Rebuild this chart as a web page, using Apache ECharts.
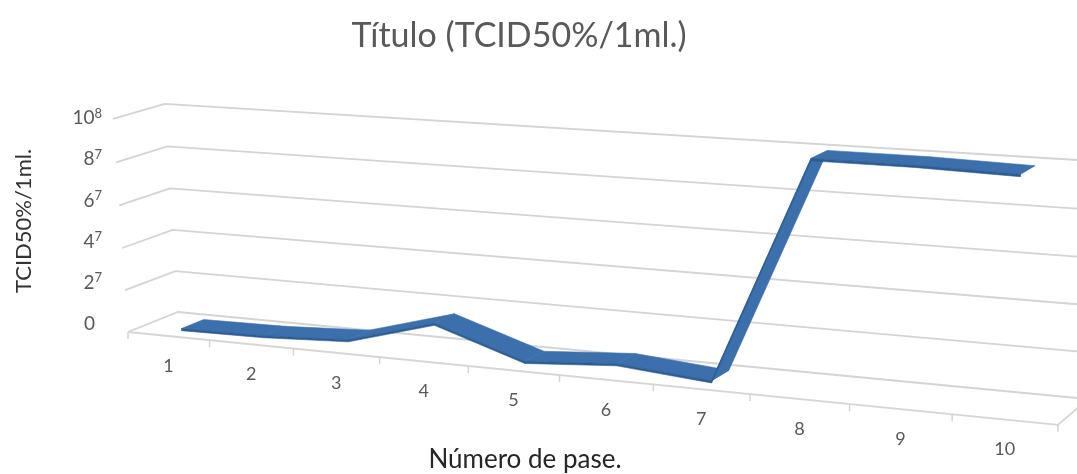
<!DOCTYPE html>
<html>
<head>
<meta charset="utf-8">
<script src="https://cdn.jsdelivr.net/npm/echarts@6/dist/echarts.min.js"></script>
<style>
  html, body { margin: 0; padding: 0; background: #ffffff; }
  #chart { width: 1077px; height: 474px; }
</style>
</head>
<body>
<div id="chart"></div>
<script>
// Passage numbers along the floor
const categories = ['1', '2', '3', '4', '5', '6', '7', '8', '9', '10'];
// Titre per passage (TCID50%/1ml.)
const titerValues = [1e6, 1.5e6, 3.5e6, 1.5e7, 1.5e6, 4.5e6, 1e6, 1e8, 1e8, 9.9e7];
// Value-axis ticks and their labels (base + exponent)
const yTickValues = [0, 2e7, 4e7, 6e7, 8e7, 1e8];
const yTickBase = ['0', '2', '4', '6', '8', '10'];
const yTickExp = ['', '7', '7', '7', '7', '8'];

const FONT = 'Lato, "Open Sans", sans-serif';

// Perspective camera for the 3-D box: image of the front-left-floor corner,
// vanishing points of the three box directions and their weights.
const camera = {
  origin: [128, 332],
  vx: [-5863, -266], kx: -0.013437,
  vy: [738, 9000], ky: -0.0024,
  vz: [2075, -447], kz: 0.02636
};
// x: 0..N along the passages, v: 0..10 up the value axis, z: 0 (front) .. 1 (back wall)
function project(x, v, z) {
  const c = camera;
  const X = c.origin[0] + c.kx * x * c.vx[0] + c.ky * v * c.vy[0] + c.kz * z * c.vz[0];
  const Y = c.origin[1] + c.kx * x * c.vx[1] + c.ky * v * c.vy[1] + c.kz * z * c.vz[1];
  const W = 1 + c.kx * x + c.ky * v + c.kz * z;
  return [X / W, Y / W];
}
const N = categories.length;
// Convert a pixel from the flat cartesian grid into box coordinates
function toBox(cs, px) {
  return {
    x: (px[0] - cs.x) / cs.width * N,
    v: (cs.y + cs.height - px[1]) / cs.height * 10
  };
}

const RIB_Z1 = 0.26, RIB_Z2 = 0.71, RIB_T = 0.1;

const chart = echarts.init(document.getElementById('chart'), null, { renderer: 'canvas' });

const option = {
  backgroundColor: '#ffffff',
  animation: false,
  title: {
    text: 'Título (TCID50%/1ml.)',
    left: 514,
    top: 14,
    textAlign: 'center',
    textStyle: { fontFamily: FONT, fontSize: 34, fontWeight: 'normal', color: '#595959' }
  },
  grid: { left: 105, right: 132, top: 118, bottom: 148, containLabel: false },
  xAxis: {
    type: 'category',
    data: categories,
    boundaryGap: true,
    axisLine: { show: false },
    axisTick: { show: false },
    axisLabel: { show: false },
    splitLine: { show: false },
    name: 'Número de pase.',
    nameLocation: 'middle',
    nameGap: 123,
    nameTextStyle: { fontFamily: FONT, fontSize: 26, color: '#262626' }
  },
  yAxis: {
    type: 'value',
    min: 0,
    max: 1e8,
    interval: 2e7,
    axisLine: { show: false },
    axisTick: { show: false },
    splitLine: { show: false },
    axisLabel: {
      margin: 3,
      formatter: function (val) {
        const i = yTickValues.indexOf(val);
        if (i < 0) return '';
        return '{b|' + yTickBase[i] + '}' + (yTickExp[i] ? '{e|' + yTickExp[i] + '}' : '{p|\u00a0}');
      },
      rich: {
        b: { fontFamily: FONT, fontSize: 19, color: '#595959', lineHeight: 22 },
        e: { fontFamily: FONT, fontSize: 13, color: '#595959', verticalAlign: 'top', lineHeight: 22 },
        p: { fontSize: 13, width: 7 }
      }
    },
    name: 'TCID50%/1ml.',
    nameLocation: 'middle',
    nameRotate: 90,
    nameGap: 70,
    nameTextStyle: { fontFamily: FONT, fontSize: 22, color: '#333333' }
  },
  series: [
    {
      // Left-wall and back-wall gridlines at every value tick
      type: 'custom',
      name: 'grid',
      clip: false,
      silent: true,
      z: 1,
      data: yTickValues.map(v => [0, v]),
      renderItem: function (params, api) {
        const cs = params.coordSys;
        const v = toBox(cs, api.coord([0, api.value(1)])).v;
        return {
          type: 'polyline',
          shape: { points: [project(0, v, 0), project(0, v, 1), project(N, v, 1)] },
          style: { stroke: '#d4d4d4', lineWidth: 1.8, fill: null }
        };
      }
    },
    {
      // Floor edges, category ticks and labels
      type: 'custom',
      name: 'floor',
      clip: false,
      silent: true,
      z: 2,
      data: categories.map((c, i) => [i, 0]),
      renderItem: function (params, api) {
        const cs = params.coordSys;
        const i = params.dataIndex;
        const xc = toBox(cs, api.coord([i, 0])).x;
        const children = [];
        const tick = function (x) {
          const p = project(x, 0, 0);
          children.push({
            type: 'line',
            shape: { x1: p[0], y1: p[1], x2: p[0], y2: p[1] + 7 },
            style: { stroke: '#d4d4d4', lineWidth: 1.5 }
          });
        };
        if (i === 0) {
          children.push({
            type: 'polyline',
            shape: { points: [project(0, 0, 0), project(N, 0, 0), project(N, 0, 1)] },
            style: { stroke: '#dad5d0', lineWidth: 1.8, fill: null }
          });
        }
        tick(xc - 0.5);
        if (i === N - 1) tick(xc + 0.5);
        const lp = project(xc, 0, 0);
        children.push({
          type: 'text',
          x: lp[0], y: lp[1] + 30,
          style: {
            text: categories[i], fontFamily: FONT, fontSize: 18, fill: '#595959',
            align: 'center', verticalAlign: 'middle'
          }
        });
        return { type: 'group', children: children };
      }
    },
    {
      // The titre ribbon
      type: 'custom',
      name: 'TCID50%/1ml.',
      clip: false,
      z: 3,
      data: titerValues.map((v, i) => [i, v]),
      renderItem: function (params, api) {
        const cs = params.coordSys;
        const i = params.dataIndex;
        if (i >= titerValues.length - 1) return null;
        const a = toBox(cs, api.coord([i, titerValues[i]]));
        const b = toBox(cs, api.coord([i + 1, titerValues[i + 1]]));
        const top = [
          project(a.x, a.v, RIB_Z1), project(b.x, b.v, RIB_Z1),
          project(b.x, b.v, RIB_Z2), project(a.x, a.v, RIB_Z2)
        ];
        const front = [
          project(a.x, a.v, RIB_Z1), project(b.x, b.v, RIB_Z1),
          project(b.x, b.v - RIB_T, RIB_Z1), project(a.x, a.v - RIB_T, RIB_Z1)
        ];
        return {
          type: 'group',
          children: [
            { type: 'polygon', shape: { points: top }, style: { fill: '#3b70ad', stroke: '#3b70ad', lineWidth: 0.6 } },
            { type: 'polygon', shape: { points: front }, style: { fill: '#2d5c94', stroke: '#2d5c94', lineWidth: 0.6 } }
          ]
        };
      }
    }
  ]
};

chart.setOption(option);
</script>
</body>
</html>
